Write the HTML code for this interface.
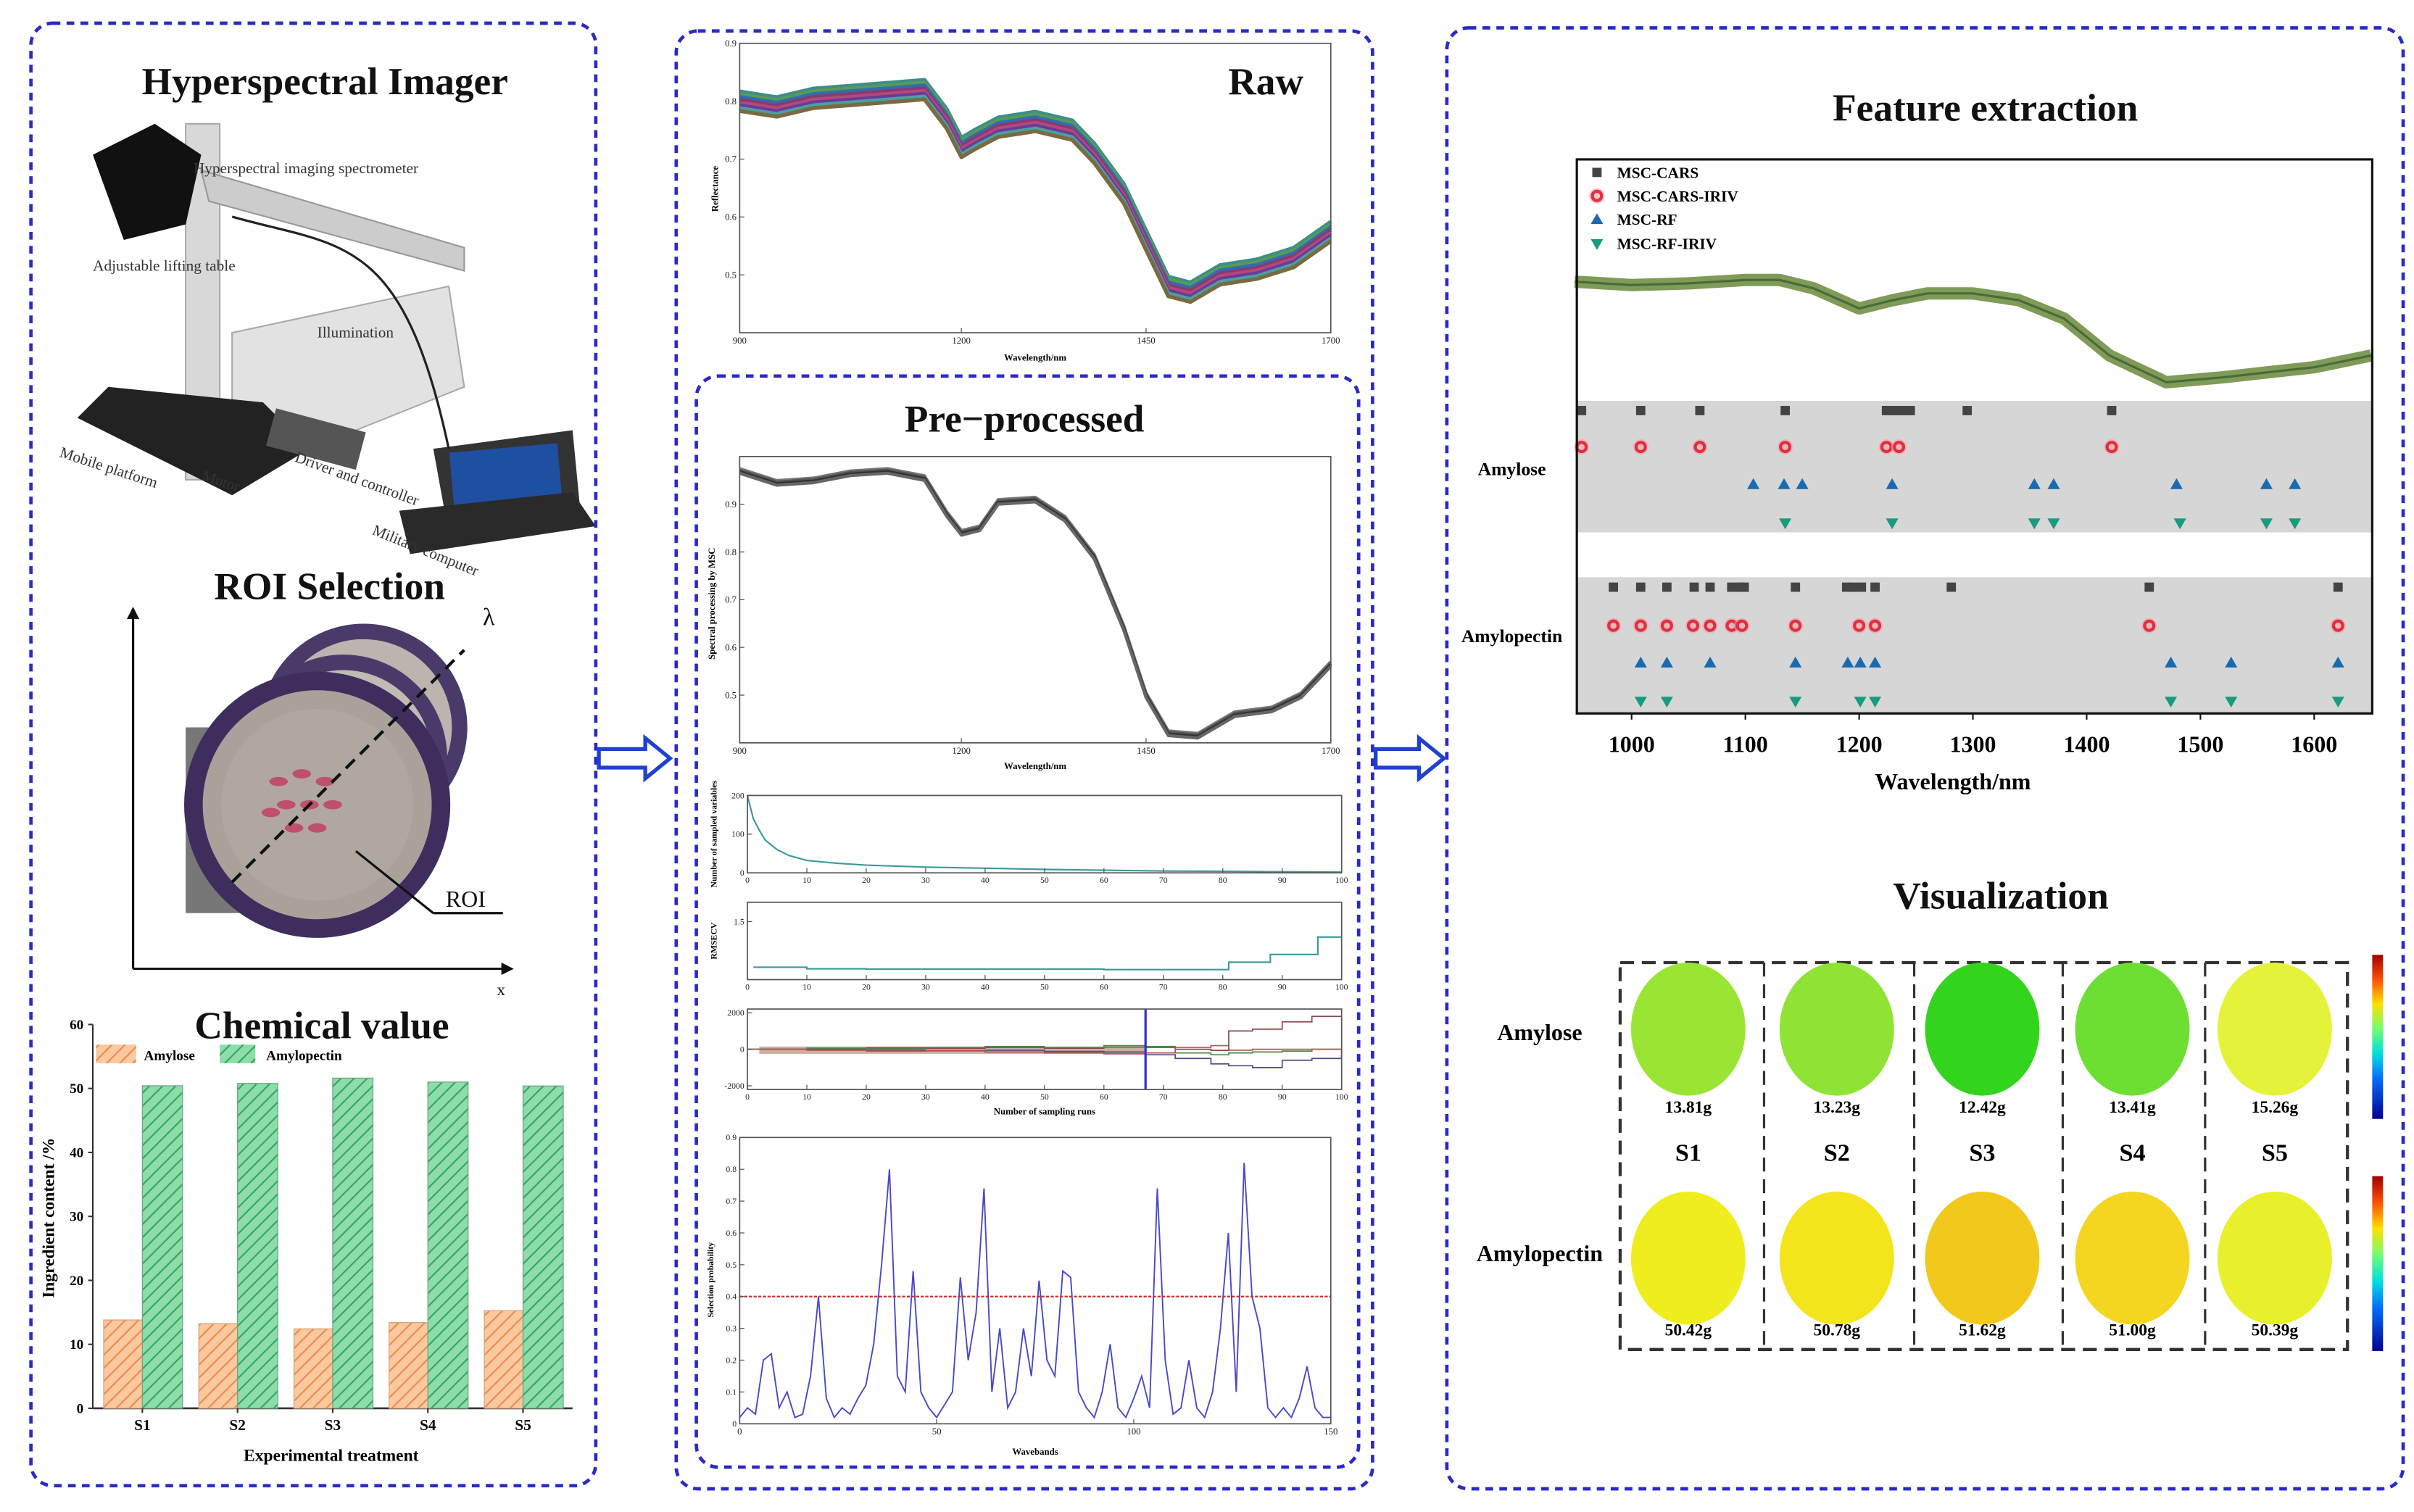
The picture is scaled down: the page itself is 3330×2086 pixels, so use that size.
<!DOCTYPE html>
<html><head><meta charset="utf-8"><title>Hyperspectral workflow</title>
<style>
html,body{margin:0;padding:0;background:#fff;}
svg{display:block;}
text{font-family:"Liberation Serif",serif;}
</style></head>
<body>
<svg id="fig" width="3330" height="2086" viewBox="0 0 1560 977" preserveAspectRatio="none" xmlns="http://www.w3.org/2000/svg">
<defs>
<pattern id="hatchO" width="6" height="6" patternUnits="userSpaceOnUse" patternTransform="rotate(45)"><rect width="6" height="6" fill="#fbc9a0"/><line x1="0" y1="0" x2="0" y2="6" stroke="#f08a48" stroke-width="2"/></pattern>
<pattern id="hatchG" width="6" height="6" patternUnits="userSpaceOnUse" patternTransform="rotate(45)"><rect width="6" height="6" fill="#8fdcab"/><line x1="0" y1="0" x2="0" y2="6" stroke="#2fa860" stroke-width="2"/></pattern>
<linearGradient id="jet" x1="0" y1="1" x2="0" y2="0"><stop offset="0" stop-color="#00008f"/><stop offset="0.25" stop-color="#0070ff"/><stop offset="0.4" stop-color="#00e0e0"/><stop offset="0.55" stop-color="#70ff70"/><stop offset="0.7" stop-color="#ffe000"/><stop offset="0.85" stop-color="#ff5000"/><stop offset="1" stop-color="#a00000"/></linearGradient>
</defs>

<!-- panels -->
<rect x="20" y="15" width="365" height="945" rx="14" fill="none" stroke="#2a2ac8" stroke-width="2.2" stroke-dasharray="5,4"/>
<rect x="437" y="20" width="450" height="942" rx="14" fill="none" stroke="#2a2ac8" stroke-width="2.2" stroke-dasharray="5,4"/>
<rect x="450" y="243" width="428" height="705" rx="14" fill="none" stroke="#2a2ac8" stroke-width="2.2" stroke-dasharray="5,4"/>
<rect x="935" y="18" width="618" height="944" rx="14" fill="none" stroke="#2a2ac8" stroke-width="2.2" stroke-dasharray="5,4"/>

<!-- arrows -->
<path d="M387,484 h30 v-7 l16,13 l-16,13 v-7 h-30 z" fill="#fff" stroke="#2040d0" stroke-width="2.5"/>
<path d="M889,484 h28 v-7 l16,13 l-16,13 v-7 h-28 z" fill="#fff" stroke="#2040d0" stroke-width="2.5"/>

<!-- titles -->
<g font-weight="bold" fill="#111" text-anchor="middle">
<text x="210" y="61" font-size="25">Hyperspectral Imager</text>
<text x="213" y="387" font-size="25">ROI Selection</text>
<text x="208" y="671" font-size="25">Chemical value</text>
<text x="818" y="61" font-size="25">Raw</text>
<text x="662" y="279" font-size="25">Pre−processed</text>
<text x="1283" y="78" font-size="25">Feature extraction</text>
<text x="1293" y="587" font-size="25">Visualization</text>
</g>

<!-- hyperspectral imager illustration -->
<g>
<rect x="120" y="80" width="22" height="230" fill="#d8d8d8" stroke="#aaa"/>
<path d="M130,110 L300,160 L300,175 L135,130 z" fill="#ccc" stroke="#999"/>
<path d="M60,100 l40,-20 l30,20 l-10,45 l-40,10 z" fill="#111"/>
<path d="M150,215 L290,185 L300,250 L200,290 L150,300 z" fill="#e2e2e2" stroke="#aaa"/>
<path d="M70,250 L170,260 L200,290 L150,320 L50,270 z" fill="#222"/>
<rect x="175" y="270" width="60" height="25" fill="#555" transform="rotate(15 200 280)"/>
<path d="M280,290 L370,278 L375,330 L290,345 z" fill="#333"/>
<rect x="292" y="290" width="70" height="38" fill="#1f4fa0" transform="rotate(-5 320 310)"/>
<path d="M258,330 L370,318 L385,340 L265,358 z" fill="#2a2a2a"/>
<path d="M150,140 C220,160 260,150 290,290" fill="none" stroke="#222" stroke-width="1.5"/>
<text x="125" y="112" font-size="10" fill="#333">Hyperspectral imaging spectrometer</text>
<text x="60" y="175" font-size="10" fill="#333">Adjustable lifting table</text>
<text x="205" y="218" font-size="10" fill="#333">Illumination</text>
<text x="38" y="295" font-size="10" fill="#333" transform="rotate(18 38 295)">Mobile platform</text>
<text x="130" y="310" font-size="10" fill="#333" transform="rotate(18 130 310)">Motor</text>
<text x="190" y="298" font-size="10" fill="#333" transform="rotate(20 190 298)">Driver and controller</text>
<text x="240" y="345" font-size="10" fill="#333" transform="rotate(22 240 345)">Military computer</text>
</g>

<!-- ROI illustration -->
<g>
<line x1="86" y1="626" x2="86" y2="398" stroke="#111" stroke-width="1.5"/>
<path d="M86,392 l-4,8 h8 z" fill="#111"/>
<line x1="86" y1="626" x2="326" y2="626" stroke="#111" stroke-width="1.5"/>
<path d="M332,626 l-8,-4 v8 z" fill="#111"/>
<circle cx="235" cy="470" r="62" fill="#bcb4ae" stroke="#4a3a6a" stroke-width="10"/>
<circle cx="222" cy="490" r="62" fill="#c2bbb5" stroke="#4a3a6a" stroke-width="10"/>
<rect x="120" y="470" width="50" height="120" fill="#777"/>
<circle cx="205" cy="520" r="80" fill="#a9a19a" stroke="#3f2d5e" stroke-width="12"/>
<circle cx="205" cy="520" r="62" fill="#b0a8a0"/>
<g fill="#c0506a"><ellipse cx="180" cy="505" rx="6" ry="3"/><ellipse cx="195" cy="500" rx="6" ry="3"/><ellipse cx="210" cy="505" rx="6" ry="3"/><ellipse cx="185" cy="520" rx="6" ry="3"/><ellipse cx="200" cy="520" rx="6" ry="3"/><ellipse cx="215" cy="520" rx="6" ry="3"/><ellipse cx="190" cy="535" rx="6" ry="3"/><ellipse cx="205" cy="535" rx="6" ry="3"/><ellipse cx="175" cy="525" rx="6" ry="3"/></g>
<line x1="150" y1="570" x2="300" y2="420" stroke="#111" stroke-width="2" stroke-dasharray="8,5"/>
<line x1="230" y1="550" x2="280" y2="590" stroke="#111" stroke-width="1.5"/>
<line x1="280" y1="590" x2="325" y2="590" stroke="#111" stroke-width="1.5"/>
<text x="288" y="586" font-size="15" fill="#111">ROI</text>
<text x="312" y="404" font-size="16" fill="#111">λ</text>
<text x="321" y="643" font-size="11" fill="#111">x</text>
</g>

<!-- bar chart -->
<g id="barChart"></g>

<!-- middle charts -->
<g id="rawChart"></g>
<g id="preChart"></g>
<g id="varChart"></g>
<g id="rmseChart"></g>
<g id="coefChart"></g>
<g id="probChart"></g>

<!-- feature chart -->
<g id="featChart"></g>

<!-- visualization -->
<g id="vis"></g>
</svg>

<script>
// ---------- data ----------
const barCategories = ['S1','S2','S3','S4','S5'];
const amyloseValues = [13.81, 13.23, 12.42, 13.41, 15.26];
const amylopectinValues = [50.42, 50.78, 51.62, 51.00, 50.39];
const barTicks = [0,10,20,30,40,50,60];

const rawWavelengths = [900,950,1000,1050,1100,1150,1180,1200,1220,1250,1300,1350,1380,1420,1450,1480,1510,1550,1600,1650,1700];
const rawReflectance = [0.80,0.79,0.805,0.81,0.815,0.82,0.77,0.72,0.735,0.755,0.765,0.75,0.71,0.64,0.56,0.48,0.47,0.50,0.51,0.53,0.575];
const preWavelengths = [900,950,1000,1050,1100,1150,1180,1200,1225,1250,1300,1340,1380,1420,1450,1480,1520,1570,1620,1660,1700];
const preValues = [0.97,0.945,0.95,0.965,0.97,0.955,0.88,0.84,0.85,0.905,0.91,0.87,0.79,0.64,0.50,0.42,0.415,0.46,0.47,0.50,0.565];

const runs = [0,1,2,3,5,7,10,15,20,30,40,50,60,70,80,90,100];
const sampledVars = [200,140,110,85,60,45,32,25,20,15,12,9,7,5,4,3,2];
const rmseRuns = [1,10,20,40,60,80,81,87,88,95,96,100];
const rmseValues = [0.32,0.28,0.27,0.27,0.26,0.26,0.45,0.45,0.65,0.65,1.1,1.1];
const coefRuns = [0,10,20,30,40,50,60,67,72,78,81,85,90,95,100];
const coefPath1 = [0,40,80,60,100,60,120,100,0,-60,1000,1100,1500,1800,1750];
const coefPath2 = [0,-30,-60,-80,-50,-120,-150,-300,-500,-800,-900,-1000,-600,-500,0];
const coefPath3 = [0,60,20,100,150,100,200,150,-200,-300,-200,-150,-100,0,0];
const coefPath4 = [0,-50,-100,-60,-150,-200,-250,-200,100,200,-50,0,0,0,0];
const coefSelectedRun = 67;

const probWavebands = [0,2,4,6,8,10,12,14,16,18,20,22,24,26,28,30,32,34,36,38,40,42,44,46,48,50,52,54,56,58,60,62,64,66,68,70,72,74,76,78,80,82,84,86,88,90,92,94,96,98,100,102,104,106,108,110,112,114,116,118,120,122,124,126,128,130,132,134,136,138,140,142,144,146,148,150];
const probValues = [0.02,0.05,0.03,0.2,0.22,0.05,0.1,0.02,0.03,0.15,0.4,0.08,0.02,0.05,0.03,0.08,0.12,0.25,0.5,0.8,0.15,0.1,0.48,0.1,0.05,0.02,0.06,0.1,0.46,0.2,0.35,0.74,0.1,0.3,0.05,0.1,0.3,0.15,0.45,0.2,0.15,0.48,0.46,0.1,0.05,0.02,0.1,0.25,0.05,0.02,0.08,0.15,0.05,0.74,0.2,0.03,0.05,0.2,0.05,0.02,0.1,0.3,0.6,0.1,0.82,0.4,0.3,0.05,0.02,0.05,0.02,0.08,0.18,0.05,0.02,0.02];
const probThreshold = 0.4;

const featWavelengths = [950,1000,1050,1100,1130,1160,1200,1230,1260,1300,1340,1380,1420,1470,1520,1560,1600,1650];
const featReflectance = [0.60,0.59,0.595,0.605,0.605,0.58,0.52,0.545,0.565,0.565,0.545,0.49,0.38,0.30,0.315,0.33,0.345,0.38];
const featXTicks = [1000,1100,1200,1300,1400,1500,1600];
const amyCars = [956,1008,1060,1135,1224,1231,1238,1245,1295,1422];
const amyCarsIriv = [956,1008,1060,1135,1224,1235,1422];
const amyRf = [1107,1134,1150,1229,1354,1371,1479,1558,1583];
const amyRfIriv = [1135,1229,1354,1371,1482,1558,1583];
const pecCars = [984,1008,1031,1055,1069,1088,1095,1099,1144,1189,1195,1202,1214,1281,1455,1621];
const pecCarsIriv = [984,1008,1031,1054,1069,1088,1097,1144,1200,1214,1455,1621];
const pecRf = [1008,1031,1069,1144,1190,1201,1214,1474,1527,1621];
const pecRfIriv = [1008,1031,1144,1201,1214,1474,1527,1621];

const visSamples = ['S1','S2','S3','S4','S5'];
const visAmylose = ['13.81g','13.23g','12.42g','13.41g','15.26g'];
const visAmylopectin = ['50.42g','50.78g','51.62g','51.00g','50.39g'];
const visAmyloseColors = ['#9ae534','#8fe334','#33d41e','#6ddf32','#e4f23a'];
const visPectinColors = ['#f0ed1e','#f4e41c','#f3c81c','#f4d620','#e8f02c'];

// ---------- helpers ----------
const NS='http://www.w3.org/2000/svg';
function mk(parent, tag, attrs, txt){
  const e=document.createElementNS(NS,tag);
  for(const k in attrs) e.setAttribute(k,attrs[k]);
  if(txt!==undefined) e.textContent=txt;
  parent.appendChild(e); return e;
}
function lin(d0,d1,r0,r1){return v=>r0+(v-d0)/(d1-d0)*(r1-r0);}
function pathFrom(xs,ys,sx,sy){return xs.map((x,i)=>(i?'L':'M')+sx(x).toFixed(1)+','+sy(ys[i]).toFixed(1)).join(' ');}
function stepFrom(xs,ys,sx,sy){let d='';xs.forEach((x,i)=>{if(!i)d+='M'+sx(x)+','+sy(ys[i]);else d+=' L'+sx(x)+','+sy(ys[i-1])+' L'+sx(x)+','+sy(ys[i]);});return d;}
function box(g,x0,y0,x1,y1){const r=mk(g,'rect',{x:x0,y:y0,width:x1-x0,height:y1-y0,fill:'none',stroke:'#555','stroke-width':0.8});}
function xticks(g,vals,sx,y,fs,lbl){vals.forEach(v=>{mk(g,'line',{x1:sx(v),x2:sx(v),y1:y,y2:y-3,stroke:'#555','stroke-width':0.6});const t=mk(g,'text',{x:sx(v),y:y+fs+1,'font-size':fs,'text-anchor':'middle',fill:'#222'},lbl?lbl(v):v);});}
function yticks(g,vals,sy,x,fs,lbl){vals.forEach(v=>{mk(g,'line',{x1:x,x2:x+3,y1:sy(v),y2:sy(v),stroke:'#555','stroke-width':0.6});const t=mk(g,'text',{x:x-2,y:sy(v)+fs/3,'font-size':fs,'text-anchor':'end',fill:'#222'},lbl?lbl(v):v);});}

// ---------- bar chart ----------
(function(){
  const g=document.getElementById('barChart');
  const x0=60,x1=370,yb=910,yt=662;
  const sy=lin(0,60,yb,yt);
  const gw=61.5, bw=25;
  mk(g,'line',{x1:x0,x2:x0,y1:yt,y2:yb,stroke:'#333','stroke-width':1});
  mk(g,'line',{x1:x0,x2:x1,y1:yb,y2:yb,stroke:'#333','stroke-width':1.2});
  barTicks.forEach(v=>{mk(g,'line',{x1:x0-3,x2:x0,y1:sy(v),y2:sy(v),stroke:'#333'});const t=mk(g,'text',{x:x0-6,y:sy(v)+3,'font-size':9,'text-anchor':'end','font-weight':'bold'},v);});
  barCategories.forEach((c,i)=>{
    const cx=92+i*gw;
    const a=mk(g,'rect',{x:cx-bw,y:sy(amyloseValues[i]),width:bw,height:yb-sy(amyloseValues[i]),fill:'url(#hatchO)',stroke:'#d9a27a','stroke-width':0.6});
    
    
    const b=mk(g,'rect',{x:cx,y:sy(amylopectinValues[i]),width:bw+1,height:yb-sy(amylopectinValues[i]),fill:'url(#hatchG)',stroke:'#6aa882','stroke-width':0.6});
    
    
    mk(g,'line',{x1:cx,x2:cx,y1:yb,y2:yb+3,stroke:'#333'});
    const t=mk(g,'text',{x:cx,y:yb+14,'font-size':10,'text-anchor':'middle','font-weight':'bold'},c);
    
    
  });
  const xt=mk(g,'text',{x:214,y:944,'font-size':11,'text-anchor':'middle','font-weight':'bold'},'Experimental treatment');
  
  const yt2=mk(g,'text',{x:35,y:787,'font-size':11,'text-anchor':'middle','font-weight':'bold',transform:'rotate(-90 35 787)'},'Ingredient content /%');
  
  const l1=mk(g,'rect',{x:62,y:675,width:26,height:12,fill:'url(#hatchO)'});
  const l1t=mk(g,'text',{x:93,y:685,'font-size':9,'font-weight':'bold'},'Amylose');
  const l2=mk(g,'rect',{x:142,y:675,width:23,height:12,fill:'url(#hatchG)'});
  const l2t=mk(g,'text',{x:172,y:685,'font-size':9,'font-weight':'bold'},'Amylopectin');
})();

// ---------- raw spectra ----------
function spectraBand(g,xs,ys,sx,sy,colors,spread,width){
  colors.forEach((c,k)=>{
    const off=(k-(colors.length-1)/2)*spread;
    const p=mk(g,'path',{d:pathFrom(xs,ys.map(v=>v),sx,v=>sy(v)+off),fill:'none',stroke:c,'stroke-width':width,'stroke-linejoin':'round'});
    
    
  });
}
(function(){
  const g=document.getElementById('rawChart');
  const x0=478,x1=860,y0=28,y1=215;
  const sx=lin(900,1700,x0,x1), sy=lin(0.4,0.9,y1,y0);
  spectraBand(g,rawWavelengths,rawReflectance,sx,sy,['#3b8f8a','#5a9a55','#2d6fb0','#8a3a70','#b04a7a','#6a3a9a','#4aa0a0','#7a6a40'],1.8,2.5);
  box(g,x0,y0,x1,y1);
  xticks(g,[900,1200,1450,1700],sx,y1,6);
  yticks(g,[0.5,0.6,0.7,0.8,0.9],sy,x0,6);
  const t=mk(g,'text',{x:669,y:233,'font-size':6,'text-anchor':'middle','font-weight':'bold'},'Wavelength/nm');
  const t2=mk(g,'text',{x:464,y:122,'font-size':6,'text-anchor':'middle','font-weight':'bold',transform:'rotate(-90 464 122)'},'Reflectance');
})();

// ---------- preprocessed spectra ----------
(function(){
  const g=document.getElementById('preChart');
  const x0=478,x1=860,y0=295,y1=480;
  const sx=lin(900,1700,x0,x1), sy=lin(0.4,1.0,y1,y0);
  spectraBand(g,preWavelengths,preValues,sx,sy,['#777','#555','#333','#666'],1.0,2);
  box(g,x0,y0,x1,y1);
  xticks(g,[900,1200,1450,1700],sx,y1,6);
  yticks(g,[0.5,0.6,0.7,0.8,0.9],sy,x0,6);
  const t=mk(g,'text',{x:669,y:497,'font-size':6,'text-anchor':'middle','font-weight':'bold'},'Wavelength/nm');
  const t2=mk(g,'text',{x:462,y:390,'font-size':6,'text-anchor':'middle','font-weight':'bold',transform:'rotate(-90 462 390)'},'Spectral processing by MSC');
})();

// ---------- CARS small charts ----------
const runTicks=[0,10,20,30,40,50,60,70,80,90,100];
(function(){
  const g=document.getElementById('varChart');
  const x0=483,x1=867,y0=514,y1=564;
  const sx=lin(0,100,x0,x1), sy=lin(0,200,y1,y0);
  const p=mk(g,'path',{d:pathFrom(runs,sampledVars,sx,sy),fill:'none',stroke:'#3a9a9a','stroke-width':1});
  
  box(g,x0,y0,x1,y1); xticks(g,runTicks,sx,y1,5.5); yticks(g,[0,100,200],sy,x0,5.5);
  const t2=mk(g,'text',{x:463,y:539,'font-size':5.5,'text-anchor':'middle','font-weight':'bold',transform:'rotate(-90 463 539)'},'Number of sampled variables');
})();
(function(){
  const g=document.getElementById('rmseChart');
  const x0=483,x1=867,y0=583,y1=633;
  const sx=lin(0,100,x0,x1), sy=lin(0,2,y1,y0);
  const p=mk(g,'path',{d:stepFrom(rmseRuns,rmseValues,sx,sy),fill:'none',stroke:'#3a9a9a','stroke-width':1});
  
  box(g,x0,y0,x1,y1); xticks(g,runTicks,sx,y1,5.5); yticks(g,[1.5],sy,x0,5.5);
  const t2=mk(g,'text',{x:463,y:608,'font-size':5.5,'text-anchor':'middle','font-weight':'bold',transform:'rotate(-90 463 608)'},'RMSECV');
})();
(function(){
  const g=document.getElementById('coefChart');
  const x0=483,x1=867,y0=652,y1=704;
  const sx=lin(0,100,x0,x1), sy=lin(-2200,2200,y1,y0);
  const band=mk(g,'rect',{x:sx(2),y:sy(150),width:sx(coefSelectedRun)-sx(2),height:sy(-250)-sy(150),fill:'#a07050',opacity:0.55});
  
  [[coefPath1,'#8a4a4a'],[coefPath2,'#4a4a8a'],[coefPath3,'#4a8a4a'],[coefPath4,'#c05050']].forEach(([arr,c])=>{
    const p=mk(g,'path',{d:stepFrom(coefRuns,arr,sx,sy),fill:'none',stroke:c,'stroke-width':0.8});
    
  });
  const v=mk(g,'line',{x1:sx(coefSelectedRun),x2:sx(coefSelectedRun),y1:y0,y2:y1,stroke:'#3030d0','stroke-width':1.5});
  
  box(g,x0,y0,x1,y1); xticks(g,runTicks,sx,y1,5.5); yticks(g,[-2000,0,2000],sy,x0,5.5);
  const t=mk(g,'text',{x:675,y:720,'font-size':6,'text-anchor':'middle','font-weight':'bold'},'Number of sampling runs');
})();
(function(){
  const g=document.getElementById('probChart');
  const x0=478,x1=860,y0=735,y1=920;
  const sx=lin(0,150,x0,x1), sy=lin(0,0.9,y1,y0);
  const p=mk(g,'path',{d:pathFrom(probWavebands,probValues,sx,sy),fill:'none',stroke:'#4a4ac8','stroke-width':0.9});
  
  const th=mk(g,'line',{x1:x0,x2:x1,y1:sy(probThreshold),y2:sy(probThreshold),stroke:'#c03030','stroke-width':1,'stroke-dasharray':'2,1'});
  
  box(g,x0,y0,x1,y1); xticks(g,[0,50,100,150],sx,y1,6); yticks(g,[0,0.1,0.2,0.3,0.4,0.5,0.6,0.7,0.8,0.9],sy,x0,5.5);
  const t=mk(g,'text',{x:669,y:940,'font-size':6,'text-anchor':'middle','font-weight':'bold'},'Wavebands');
  const t2=mk(g,'text',{x:461,y:827,'font-size':5.5,'text-anchor':'middle','font-weight':'bold',transform:'rotate(-90 461 827)'},'Selection probability');
})();

// ---------- feature extraction ----------
(function(){
  const g=document.getElementById('featChart');
  const x0=1019,x1=1533,y0=103,y1=461;
  const sx=lin(1000,1600,1054.4,1495.5), sy=lin(0.3,0.6,247,182);
  const b1=mk(g,'rect',{x:x0,y:259,width:x1-x0,height:85,fill:'#d6d6d6'});
  const b2=mk(g,'rect',{x:x0,y:373,width:x1-x0,height:y1-373,fill:'#d6d6d6'});
  const c1=mk(g,'path',{d:pathFrom(featWavelengths,featReflectance,sx,sy),fill:'none',stroke:'#6a8a3a','stroke-width':8,'stroke-linejoin':'round',opacity:0.85});
  
  const c2=mk(g,'path',{d:pathFrom(featWavelengths,featReflectance,sx,sy),fill:'none',stroke:'#4a6a3a','stroke-width':1.5});
  
  function marker(type,x,y){
    let e;
    if(type==='sq') e=mk(g,'rect',{x:x-3,y:y-3,width:6,height:6,fill:'#444'});
    else if(type==='ci'){mk(g,'circle',{cx:x,cy:y,r:5,fill:'#f4a0a8',opacity:0.6});e=mk(g,'circle',{cx:x,cy:y,r:3,fill:'none',stroke:'#e03040','stroke-width':2});}
    else if(type==='up') e=mk(g,'path',{d:`M${x},${y-4} l4,7 h-8 z`,fill:'#1a6ab0'});
    else e=mk(g,'path',{d:`M${x},${y+4} l4,-7 h-8 z`,fill:'#1a9a80'});
    return e;
  }
  const rows=[[amyCars,'sq',265.3],[amyCarsIriv,'ci',288.8],[amyRf,'up',313],[amyRfIriv,'dn',338],[pecCars,'sq',379.4],[pecCarsIriv,'ci',404.3],[pecRf,'up',428.3],[pecRfIriv,'dn',453.2]];
  rows.forEach(([arr,t,y])=>arr.forEach(w=>{
    const m=marker(t,sx(w),y);
    
    
  }));
  box(g,x0,y0,x1,y1);
  g.lastChild.setAttribute('stroke','#111');g.lastChild.setAttribute('stroke-width','1.5');
  featXTicks.forEach(v=>{mk(g,'line',{x1:sx(v),x2:sx(v),y1:y1,y2:y1+4,stroke:'#111'});const t=mk(g,'text',{x:sx(v),y:y1+25,'font-size':15,'text-anchor':'middle','font-weight':'bold'},v);});
  const xt=mk(g,'text',{x:1262,y:510,'font-size':15,'text-anchor':'middle','font-weight':'bold'},'Wavelength/nm');
  const r1=mk(g,'text',{x:977,y:307,'font-size':12,'text-anchor':'middle','font-weight':'bold'},'Amylose');
  const r2=mk(g,'text',{x:977,y:415,'font-size':12,'text-anchor':'middle','font-weight':'bold'},'Amylopectin');
  const leg=[['sq','MSC-CARS',111.4],['ci','MSC-CARS-IRIV',126.6],['up','MSC-RF',141.8],['dn','MSC-RF-IRIV',157.5]];
  leg.forEach(([t,l,y])=>{
    const m=marker(t,1032,y);
    
    
    const tx=mk(g,'text',{x:1045,y:y+3.5,'font-size':10,'font-weight':'bold'},l);
    
    
  });
})();

// ---------- visualization ----------
(function(){
  const g=document.getElementById('vis');
  const fr=mk(g,'rect',{x:1047,y:622,width:470,height:250,fill:'none',stroke:'#333','stroke-width':2,'stroke-dasharray':'9,5'});
  
  [1140,1237,1333,1425].forEach(x=>mk(g,'line',{x1:x,x2:x,y1:622,y2:872,stroke:'#333','stroke-width':1.5,'stroke-dasharray':'9,5'}));
  const cxs=[1091,1187,1281,1378,1470];
  visSamples.forEach((s,i)=>{
    const a=mk(g,'ellipse',{cx:cxs[i],cy:665,rx:37,ry:43,fill:visAmyloseColors[i]});
    
    const t=mk(g,'text',{x:cxs[i],y:719,'font-size':11,'text-anchor':'middle','font-weight':'bold'},visAmylose[i]);
    
    const sl=mk(g,'text',{x:cxs[i],y:750,'font-size':16,'text-anchor':'middle','font-weight':'bold'},s);
    
    const b=mk(g,'ellipse',{cx:cxs[i],cy:813,rx:37,ry:43,fill:visPectinColors[i]});
    
    const t2=mk(g,'text',{x:cxs[i],y:863,'font-size':11,'text-anchor':'middle','font-weight':'bold'},visAmylopectin[i]);
    
  });
  const l1=mk(g,'text',{x:995,y:672,'font-size':15,'text-anchor':'middle','font-weight':'bold'},'Amylose');
  const l2=mk(g,'text',{x:995,y:815,'font-size':15,'text-anchor':'middle','font-weight':'bold'},'Amylopectin');
  const cb1=mk(g,'rect',{x:1533,y:617,width:7,height:106,fill:'url(#jet)'});
  const cb2=mk(g,'rect',{x:1533,y:760,width:7,height:113,fill:'url(#jet)'});
})();
</script>
</body></html>
